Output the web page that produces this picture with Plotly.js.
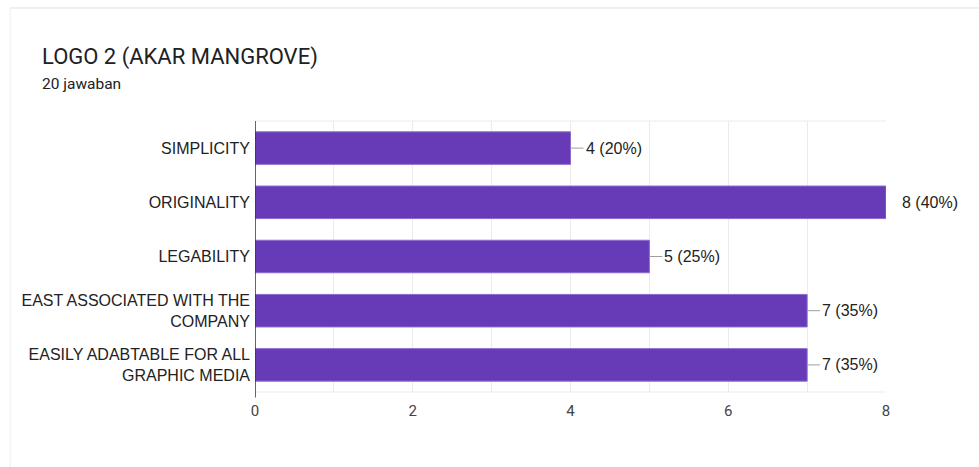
<!DOCTYPE html>
<html>
<head>
<meta charset="utf-8">
<script src="https://cdn.plot.ly/plotly-3.0.1.min.js"></script>
<style>html,body{margin:0;padding:0;background:#fff;}#chart{width:979px;height:467px;}</style>
</head>
<body>
<div id="chart"></div>
<script>
const categories = ["SIMPLICITY", "ORIGINALITY", "LEGABILITY", "EAST ASSOCIATED WITH THE<br>COMPANY", "EASILY ADABTABLE FOR ALL<br>GRAPHIC MEDIA"];
const counts = [4, 8, 5, 7, 7];
const valueLabels = ["4 (20%)", "8 (40%)", "5 (25%)", "7 (35%)", "7 (35%)"];
const tickValues = [0, 1, 2, 3, 4, 5, 6, 7, 8];
const tickLabels = ["0", "", "2", "", "4", "", "6", "", "8"];
const xMax = 8;

const annotations = counts.map((v, i) => {
  const atMax = v >= xMax;
  return {
    x: v, y: categories[i], xref: 'x', yref: 'y',
    text: valueLabels[i],
    showarrow: !atMax,
    arrowhead: 0, arrowwidth: 1, arrowcolor: '#9e9e9e',
    ax: atMax ? 0 : 13, ay: 0, axref: 'pixel', ayref: 'pixel',
    xanchor: 'left', yanchor: 'middle',
    xshift: atMax ? 14 : 0,
    font: {family: 'Liberation Sans, Arial, sans-serif', size: 16, color: '#222'}
  };
});

annotations.push({
  xref: 'paper', yref: 'paper', x: -0.3407, y: 1.236, xanchor: 'left', yanchor: 'middle',
  text: 'LOGO 2 (AKAR MANGROVE)', showarrow: false,
  font: {family: 'Roboto, Liberation Sans, sans-serif', size: 22, color: '#202124'}
});
annotations.push({
  xref: 'paper', yref: 'paper', x: -0.3407, y: 1.137, xanchor: 'left', yanchor: 'middle',
  text: '20 jawaban', showarrow: false,
  font: {family: 'Roboto, Liberation Sans, sans-serif', size: 15.5, color: '#202124'}
});

const data = [{
  type: 'bar', orientation: 'h',
  x: counts, y: categories,
  marker: {color: '#673ab7', line: {color: '#8c6bd0', width: 1}},
  width: 0.6,
  hoverinfo: 'none'
}];

const layout = {
  width: 979, height: 467,
  margin: {l: 255, r: 93, t: 121, b: 75},
  paper_bgcolor: '#fff', plot_bgcolor: '#fff',
  showlegend: false,
  font: {family: 'Liberation Sans, Arial, sans-serif', size: 16, color: '#222'},
  xaxis: {
    range: [0, xMax], tickvals: tickValues, ticktext: tickLabels,
    showgrid: true, gridcolor: '#ebebeb', gridwidth: 1,
    zeroline: false, showline: false, ticks: '', ticklabelstandoff: 8,
    tickfont: {family: 'Roboto, Liberation Sans, sans-serif', size: 15, color: '#444'},
    fixedrange: true
  },
  yaxis: {
    autorange: 'reversed', ticks: '', ticklabelstandoff: 4,
    showgrid: false, zeroline: false, showline: false,
    tickfont: {family: 'Liberation Sans, Arial, sans-serif', size: 16, color: '#222'},
    fixedrange: true
  },
  shapes: [
    {type: 'line', xref: 'paper', yref: 'paper', x0: -0.388, x1: 2, y0: 1.417, y1: 1.417, line: {color: '#e0e0e0', width: 1}},
    {type: 'line', xref: 'paper', yref: 'paper', x0: -0.388, x1: -0.388, y0: 1.417, y1: -0.4, line: {color: '#eeeeee', width: 1}},
    {type: 'line', xref: 'paper', yref: 'paper', x0: 0, x1: 1, y0: 1, y1: 1, line: {color: '#ebebeb', width: 1}},
    {type: 'line', xref: 'paper', yref: 'paper', x0: 0, x1: 1, y0: 0, y1: 0, line: {color: '#ebebeb', width: 1}},
    {type: 'line', xref: 'x', yref: 'paper', x0: 0, x1: 0, y0: -0.02, y1: 1, line: {color: '#333', width: 1.5}}
  ],
  annotations: annotations
};

Plotly.newPlot('chart', data, layout, {displayModeBar: false, staticPlot: true});
</script>
</body>
</html>
